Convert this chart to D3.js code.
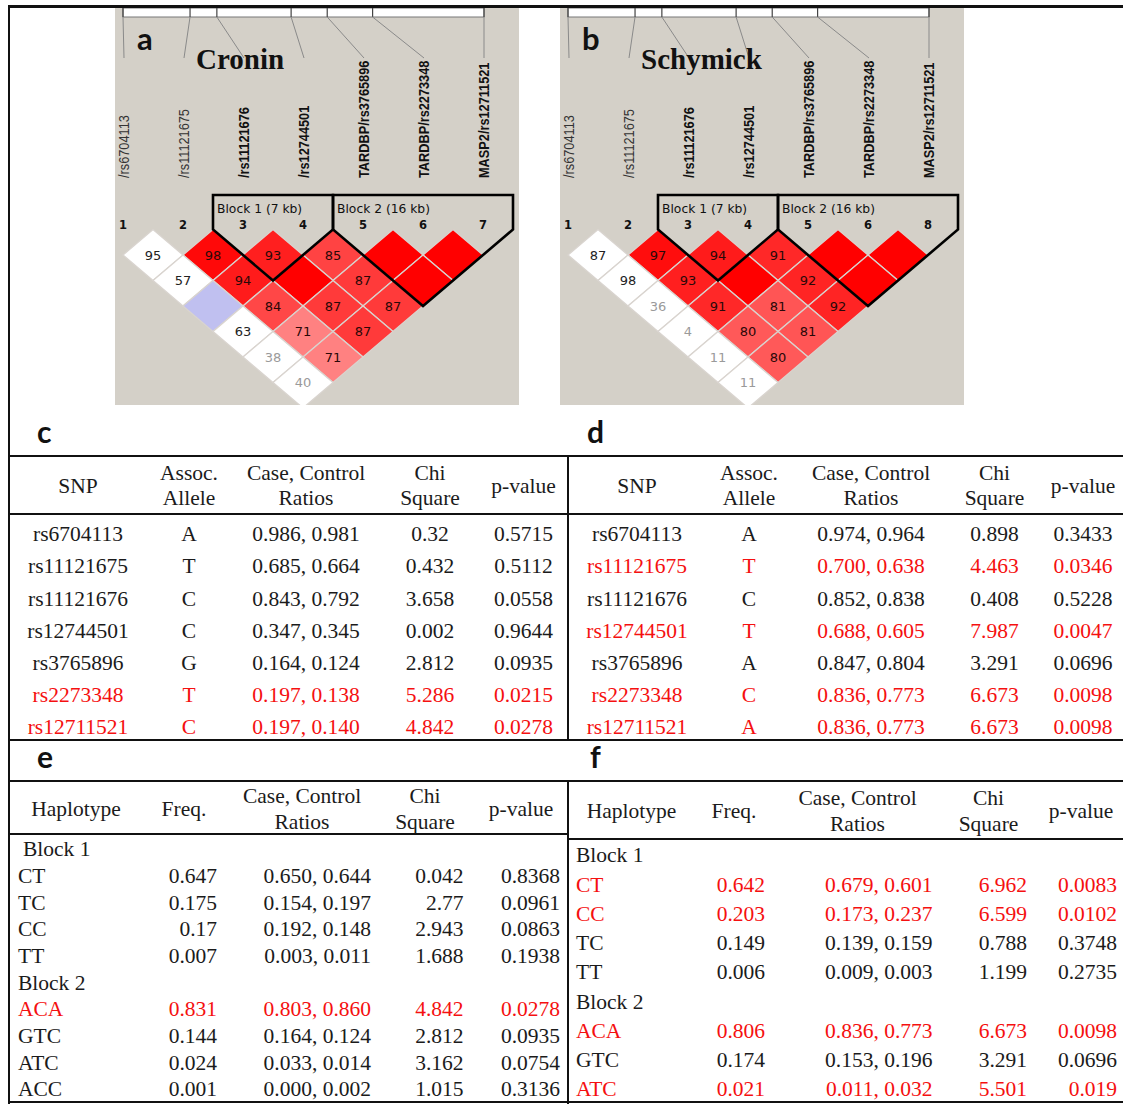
<!DOCTYPE html>
<html>
<head>
<meta charset="utf-8">
<script src="https://cdn.jsdelivr.net/npm/d3@7"></script>
<style>
  body { margin: 0; background: #fff; }
  svg { display: block; }
</style>
</head>
<body>
<svg id="fig" width="1123" height="1108"></svg>
<script>
// ---------------- LD plot data ----------------
const markerNames = ["/rs6704113", "/rs11121675", "/rs11121676", "/rs12744501",
  "TARDBP/rs3765896", "TARDBP/rs2273348", "MASP2/rs12711521"];
// relative marker map positions (kb)
const markerKb = [0, 6.5, 9.1, 16.3, 19.8, 24.2, 35.0];
const markerNumbersCronin = ["1", "2", "3", "4", "5", "6", "7"];
const markerNumbersSchymick = ["1", "2", "3", "4", "5", "6", "8"];
const blockLabels = ["Block 1 (7 kb)", "Block 2 (16 kb)"];
const blockFirst = [3, 5];   // marker order, 1-based
const blockLast = [4, 7];
// D' x100 for marker pairs; row k lists the pairs (i, i+k+1)
const dprimeCronin = [[95, 98, 93, 85, 100, 100], [57, 94, 100, 87, 100], [100, 84, 87, 87], [63, 71, 87], [38, 71], [40]];
const lodHighCronin = [[0, 1, 1, 1, 1, 1], [0, 1, 1, 1, 1], [0, 1, 1, 1], [0, 1, 1], [0, 1], [0]];
const dprimeSchymick = [[87, 97, 94, 91, 100, 100], [98, 93, 100, 92, 100], [36, 91, 81, 92], [4, 80, 81], [11, 80], [11]];
const lodHighSchymick = [[0, 1, 1, 1, 1, 1], [0, 1, 1, 1, 1], [0, 1, 1, 1], [0, 1, 1], [0, 1], [0]];

// ---------------- single-SNP association data ----------------
const snpIds = ["rs6704113", "rs11121675", "rs11121676", "rs12744501", "rs3765896", "rs2273348", "rs12711521"];
const alleleCronin = ["A", "T", "C", "C", "G", "T", "C"];
const caseCronin = [0.986, 0.685, 0.843, 0.347, 0.164, 0.197, 0.197];
const controlCronin = [0.981, 0.664, 0.792, 0.345, 0.124, 0.138, 0.140];
const chiCronin = [0.32, 0.432, 3.658, 0.002, 2.812, 5.286, 4.842];
const pCronin = [0.5715, 0.5112, 0.0558, 0.9644, 0.0935, 0.0215, 0.0278];

const alleleSchymick = ["A", "T", "C", "T", "A", "C", "A"];
const caseSchymick = [0.974, 0.700, 0.852, 0.688, 0.847, 0.836, 0.836];
const controlSchymick = [0.964, 0.638, 0.838, 0.605, 0.804, 0.773, 0.773];
const chiSchymick = [0.898, 4.463, 0.408, 7.987, 3.291, 6.673, 6.673];
const pSchymick = [0.3433, 0.0346, 0.5228, 0.0047, 0.0696, 0.0098, 0.0098];

// ---------------- haplotype association data ----------------
const hapBlockCronin = [1, 1, 1, 1, 2, 2, 2, 2];
const hapCronin = ["CT", "TC", "CC", "TT", "ACA", "GTC", "ATC", "ACC"];
const hapFreqCronin = [0.647, 0.175, 0.17, 0.007, 0.831, 0.144, 0.024, 0.001];
const hapCaseCronin = [0.650, 0.154, 0.192, 0.003, 0.803, 0.164, 0.033, 0.000];
const hapControlCronin = [0.644, 0.197, 0.148, 0.011, 0.860, 0.124, 0.014, 0.002];
const hapChiCronin = [0.042, 2.77, 2.943, 1.688, 4.842, 2.812, 3.162, 1.015];
const hapPCronin = [0.8368, 0.0961, 0.0863, 0.1938, 0.0278, 0.0935, 0.0754, 0.3136];

const hapBlockSchymick = [1, 1, 1, 1, 2, 2, 2];
const hapSchymick = ["CT", "CC", "TC", "TT", "ACA", "GTC", "ATC"];
const hapFreqSchymick = [0.642, 0.203, 0.149, 0.006, 0.806, 0.174, 0.021];
const hapCaseSchymick = [0.679, 0.173, 0.139, 0.009, 0.836, 0.153, 0.011];
const hapControlSchymick = [0.601, 0.237, 0.159, 0.003, 0.773, 0.196, 0.032];
const hapChiSchymick = [6.962, 6.599, 0.788, 1.199, 6.673, 3.291, 5.501];
const hapPSchymick = [0.0083, 0.0102, 0.3748, 0.2735, 0.0098, 0.0696, 0.019];

const ALPHA = 0.05;

// =====================================================================
const svg = d3.select("#fig");
const SERIF = "'Liberation Serif', 'Times New Roman', serif";
const SANS = "'DejaVu Sans', Verdana, sans-serif";
const LABEL = "'Liberation Sans', Arial, sans-serif";
const LETTER = "Lato, 'Open Sans', sans-serif";
const INK = "#1b1b1b";
const RED = "#f51010";
const PANEL_BG = "#d4d0c8";

// Haploview-style shading: strong LD -> red, shaded by D'
const pink = d3.scaleLinear().domain([0.5, 1]).range(["rgb(255,223,223)", "rgb(255,0,0)"]).clamp(true);
function ldFill(dp, lodHigh) {
  if (lodHigh) return dp >= 100 ? "rgb(255,0,0)" : pink(dp / 100);
  return dp >= 100 ? "rgb(192,192,240)" : "#ffffff";
}

function drawLD(px, letter, title, numbers, dprime, lodHigh, clipId) {
  const g = svg.append("g").attr("transform", `translate(${px},0)`);
  const W = 404, top = 7, bottom = 405;
  g.append("clipPath").attr("id", clipId)
    .append("rect").attr("x", 0).attr("y", top).attr("width", W).attr("height", bottom - top);
  g.append("rect").attr("x", 0).attr("y", top).attr("width", W).attr("height", bottom - top)
    .attr("fill", PANEL_BG);

  const idx = d3.range(markerNames.length);
  const x = d3.scalePoint().domain(idx).range([8, 368]);
  const half = x.step() / 2;
  const yRow = d3.scaleLinear().domain([0, 6]).range([229.5, 229.5 + 6 * 25.5]);
  const kb = d3.scaleLinear().domain([0, 35]).range([8, 369]);
  const inBlock = i => blockFirst.some((f, b) => i + 1 >= f && i + 1 <= blockLast[b]);

  // physical map bar
  g.append("rect").attr("x", kb(0)).attr("y", 8).attr("width", kb(35) - kb(0)).attr("height", 9)
    .attr("fill", "#fff").attr("stroke", "#777").attr("stroke-width", 1);
  g.selectAll(".tick").data(idx).join("line")
    .attr("x1", i => kb(markerKb[i])).attr("x2", i => kb(markerKb[i]))
    .attr("y1", 8).attr("y2", 17).attr("stroke", "#444").attr("stroke-width", 1.2);
  g.selectAll(".conn").data(idx).join("line")
    .attr("x1", i => kb(markerKb[i])).attr("y1", 17)
    .attr("x2", i => x(i) + 1).attr("y2", 58)
    .attr("stroke", "#8a8a8a").attr("stroke-width", 1);

  // panel letter and cohort title
  g.append("text").attr("x", 22).attr("y", 50)
    .attr("font-family", LETTER).attr("font-weight", 700).attr("font-size", 31)
    .attr("fill", "#111").text(letter);
  g.append("text").attr("x", 81).attr("y", 69)
    .attr("font-family", SERIF).attr("font-weight", 700).attr("font-size", 29)
    .attr("fill", "#111").text(title);

  // marker names, condensed along the reading direction
  g.selectAll(".mname").data(idx).join("text")
    .attr("transform", i => `translate(${x(i) + 6},178) rotate(-90)`)
    .attr("font-family", LABEL).attr("font-size", 14)
    .attr("font-weight", i => inBlock(i) ? 700 : 400)
    .attr("fill", i => inBlock(i) ? "#111" : "#333")
    .text(i => markerNames[i])
    .each(function () {
      const len = this.getComputedTextLength();
      d3.select(this).attr("textLength", len * 0.91).attr("lengthAdjust", "spacingAndGlyphs");
    });

  // marker numbers
  g.selectAll(".mnum").data(idx).join("text")
    .attr("x", i => x(i)).attr("y", 229)
    .attr("text-anchor", "middle")
    .attr("font-family", SANS).attr("font-weight", 700).attr("font-size", 11.5)
    .attr("fill", "#111").text(i => numbers[i]);

  // LD cells
  const cells = [];
  dprime.forEach((row, r) => row.forEach((dp, c) => {
    cells.push({ i: c, j: c + r + 1, k: r + 1, dp, lod: lodHigh[r][c] === 1 });
  }));
  const cg = g.append("g").attr("clip-path", `url(#${clipId})`);
  cg.selectAll("polygon").data(cells).join("polygon")
    .attr("points", d => {
      const cx = (x(d.i) + x(d.j)) / 2;
      return [[cx, yRow(d.k - 1)], [cx + half, yRow(d.k)], [cx, yRow(d.k + 1)], [cx - half, yRow(d.k)]].join(" ");
    })
    .attr("fill", d => ldFill(d.dp, d.lod))
    .attr("stroke", "#d9d4cf").attr("stroke-width", 1.3);
  cg.selectAll("text").data(cells.filter(d => d.dp < 100)).join("text")
    .attr("x", d => (x(d.i) + x(d.j)) / 2)
    .attr("y", d => yRow(d.k))
    .attr("dy", "0.36em")
    .attr("text-anchor", "middle")
    .attr("font-family", SANS).attr("font-size", 13)
    .attr("fill", d => d.lod ? "#2a0808" : (d.dp < 50 ? "#9a9a9a" : "#222"))
    .text(d => d.dp);

  // haplotype block outlines
  blockFirst.forEach((f, b) => {
    const i = f - 1, j = blockLast[b] - 1;
    const pts = [
      [x(i) - half, 195], [x(j) + half, 195], [x(j) + half, yRow(0)],
      [(x(i) + x(j)) / 2, yRow(j - i + 1)], [x(i) - half, yRow(0)]
    ];
    g.append("polygon").attr("points", pts.join(" "))
      .attr("fill", "none").attr("stroke", "#000").attr("stroke-width", 2.6)
      .attr("stroke-linejoin", "miter");
    g.append("text").attr("x", x(i) - half + 4).attr("y", 212.5)
      .attr("font-family", SANS).attr("font-size", 12.3).attr("fill", "#111")
      .text(blockLabels[b]);
  });
}

drawLD(115, "a", "Cronin", markerNumbersCronin, dprimeCronin, lodHighCronin, "clipA");
drawLD(560, "b", "Schymick", markerNumbersSchymick, dprimeSchymick, lodHighSchymick, "clipB");

// ---------------- tables ----------------
const ratio = d3.format(".3f");
const FS = 21.5;

function headerCell(g, x, yc, lines) {
  const t = g.append("text").attr("text-anchor", "middle")
    .attr("font-family", SERIF).attr("font-size", FS).attr("fill", INK);
  if (lines.length === 1) {
    t.attr("x", x).attr("y", yc.single).attr("dy", "0.34em").text(lines[0]);
  } else {
    t.append("tspan").attr("x", x).attr("y", yc.l1).attr("dy", "0.34em").text(lines[0]);
    t.append("tspan").attr("x", x).attr("y", yc.l2).attr("dy", "0.34em").text(lines[1]);
  }
}

const snpHeaders = [["SNP"], ["Assoc.", "Allele"], ["Case, Control", "Ratios"], ["Chi", "Square"], ["p-value"]];
const hapHeaders = [["Haplotype"], ["Freq."], ["Case, Control", "Ratios"], ["Chi", "Square"], ["p-value"]];

function snpTable(cols, alleles, cases, controls, chis, ps) {
  const g = svg.append("g");
  const yc = { single: 486, l1: 473, l2: 498 };
  snpHeaders.forEach((h, c) => headerCell(g, cols[c], yc, h));
  const y = d3.scaleLinear().domain([0, 6]).range([534, 727]);
  const rows = snpIds.map((s, i) => [s, alleles[i], `${ratio(cases[i])}, ${ratio(controls[i])}`, String(chis[i]), String(ps[i])]);
  rows.forEach((r, i) => {
    r.forEach((v, c) => {
      g.append("text").attr("x", cols[c]).attr("y", y(i)).attr("dy", "0.34em")
        .attr("text-anchor", "middle")
        .attr("font-family", SERIF).attr("font-size", FS)
        .attr("fill", ps[i] < ALPHA ? RED : INK).text(v);
    });
  });
}

snpTable([78, 189, 306, 430, 523.5], alleleCronin, caseCronin, controlCronin, chiCronin, pCronin);
snpTable([637, 749, 871, 994.5, 1083], alleleSchymick, caseSchymick, controlSchymick, chiSchymick, pSchymick);

function hapTable(opts, blocks, haps, freqs, cases, controls, chis, ps) {
  const g = svg.append("g");
  hapHeaders.forEach((h, c) => headerCell(g, opts.head[c], opts.yc, h));
  const lines = [];
  blocks.forEach((b, i) => {
    if (i === 0 || blocks[i - 1] !== b) lines.push({ block: b });
    lines.push({ i });
  });
  const y = d3.scaleLinear().domain([0, lines.length - 1]).range(opts.rows);
  lines.forEach((ln, r) => {
    if (ln.block !== undefined) {
      g.append("text").attr("x", opts.left + (ln.block === 1 ? opts.indent : 0)).attr("y", y(r)).attr("dy", "0.34em")
        .attr("font-family", SERIF).attr("font-size", FS).attr("fill", INK)
        .text("Block " + ln.block);
      return;
    }
    const i = ln.i;
    const fill = ps[i] < ALPHA ? RED : INK;
    g.append("text").attr("x", opts.left).attr("y", y(r)).attr("dy", "0.34em")
      .attr("font-family", SERIF).attr("font-size", FS).attr("fill", fill).text(haps[i]);
    const vals = [String(freqs[i]), `${ratio(cases[i])}, ${ratio(controls[i])}`, String(chis[i]), String(ps[i])];
    vals.forEach((v, c) => {
      g.append("text").attr("x", opts.right[c]).attr("y", y(r)).attr("dy", "0.34em")
        .attr("text-anchor", "end")
        .attr("font-family", SERIF).attr("font-size", FS).attr("fill", fill).text(v);
    });
  });
}

hapTable({ head: [76, 184, 302, 425, 521], yc: { single: 809, l1: 796, l2: 822 },
           rows: [849, 1089], left: 18, indent: 5, right: [217, 371, 463.6, 560] },
         hapBlockCronin, hapCronin, hapFreqCronin, hapCaseCronin, hapControlCronin, hapChiCronin, hapPCronin);
hapTable({ head: [631.5, 734, 857.5, 988.5, 1081], yc: { single: 811, l1: 798, l2: 824 },
           rows: [855, 1089], left: 576, indent: 0, right: [765, 932.6, 1027, 1117] },
         hapBlockSchymick, hapSchymick, hapFreqSchymick, hapCaseSchymick, hapControlSchymick, hapChiSchymick, hapPSchymick);

// panel letters for the tables
[["c", 37, 443], ["d", 587, 443], ["e", 37, 768], ["f", 590, 768]].forEach(([t, lx, ly]) => {
  svg.append("text").attr("x", lx).attr("y", ly)
    .attr("font-family", LETTER).attr("font-weight", 700).attr("font-size", 30)
    .attr("fill", "#111").text(t);
});

// frame and rules
const rule = (x1, y1, x2, y2, w) => svg.append("line")
  .attr("x1", x1).attr("y1", y1).attr("x2", x2).attr("y2", y2)
  .attr("stroke", "#111").attr("stroke-width", w);
rule(8, 6.5, 1123, 6.5, 3);
rule(9, 5, 9, 1104, 2);
rule(8, 456, 1123, 456, 2);
rule(8, 514, 1123, 514, 2.2);
rule(8, 740, 1123, 740, 2);
rule(568, 455, 568, 740, 2);
rule(8, 781, 1123, 781, 2);
rule(8, 834, 568, 834, 2.2);
rule(568, 839, 1123, 839, 2.2);
rule(568, 780, 568, 1104, 2);
rule(8, 1102, 1123, 1102, 2.2);
</script>
</body>
</html>
